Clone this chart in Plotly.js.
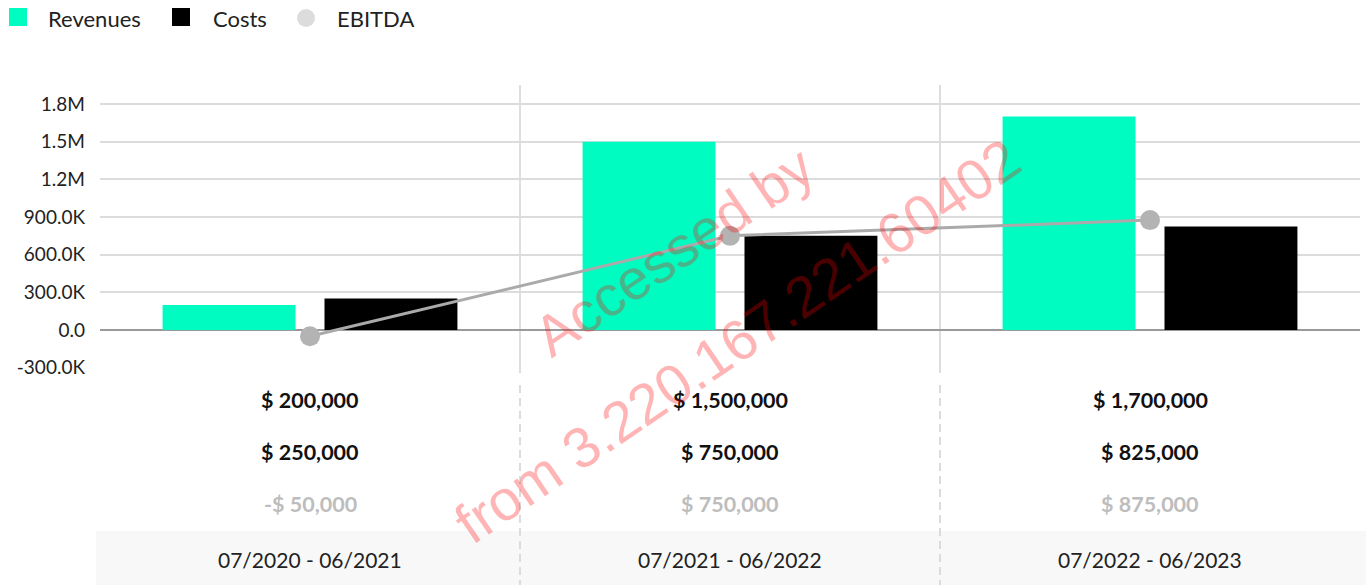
<!DOCTYPE html>
<html><head><meta charset="utf-8">
<script src="https://cdn.plot.ly/plotly-3.0.1.min.js"></script>
<style>html,body{margin:0;padding:0;background:#fff;}#chart{width:1366px;height:585px;}</style>
</head><body><div id="chart"></div>
<script>
const categories = ['07/2020 - 06/2021', '07/2021 - 06/2022', '07/2022 - 06/2023'];
const revenues = [200000, 1500000, 1700000];
const costs = [250000, 750000, 825000];
const ebitda = [-50000, 750000, 875000];
const yTickVals = [-300000, 0, 300000, 600000, 900000, 1200000, 1500000, 1800000];
const yTickText = ['-300.0K', '0.0', '300.0K', '600.0K', '900.0K', '1.2M', '1.5M', '1.8M'];
const seriesNames = ['Revenues', 'Costs', 'EBITDA'];
const watermarkLines = ['Accessed by', 'from 3.220.167.221.60402'];

const W = 1366, H = 585, ML = 100, MR = 6, MT = 85, MB = 217;
const PW = W - ML - MR, PH = H - MT - MB;
const px = v => (v - ML) / PW;
const py = v => (H - MB - v) / PH;

const COL_REV = '#00fcc1', COL_COST = '#000000', COL_EB = '#aaaaaa', COL_EB_LEG = '#dcdcdc';
const FONT = 'Lato, "Open Sans", sans-serif';

function money(v) {
  const s = Math.abs(v).toLocaleString('en-US');
  return (v < 0 ? '-' : '') + '$ ' + s;
}

const traces = [
  {type: 'bar', name: seriesNames[0], x: categories, y: revenues, marker: {color: COL_REV}, showlegend: false, hoverinfo: 'skip'},
  {type: 'bar', name: seriesNames[1], x: categories, y: costs, marker: {color: COL_COST}, showlegend: false, hoverinfo: 'skip'},
  {type: 'scatter', mode: 'lines+markers', name: seriesNames[2], x: categories, y: ebitda,
   line: {color: COL_EB, width: 3}, marker: {color: '#b3b3b3', size: 20}, showlegend: false, hoverinfo: 'skip', cliponaxis: false}
];

const annotations = [];
const shapes = [];

// bottom band
shapes.push({type: 'rect', xref: 'paper', yref: 'paper', x0: px(96), x1: px(1366), y0: py(531), y1: py(585),
  fillcolor: '#f8f8f8', line: {width: 0}, layer: 'below'});

// category dividers
[0.5, 1.5].forEach(xv => {
  shapes.push({type: 'line', xref: 'x', yref: 'paper', x0: xv, x1: xv, y0: py(373), y1: 1,
    line: {color: '#dedede', width: 2}, layer: 'below'});
  shapes.push({type: 'line', xref: 'x', yref: 'paper', x0: xv, x1: xv, y0: py(385), y1: py(585),
    line: {color: '#dcdcdc', width: 2, dash: '8px,5px'}, layer: 'below'});
});

// table rows
const rows = [
  {vals: revenues, y: 400, color: '#111111'},
  {vals: costs, y: 452, color: '#111111'},
  {vals: ebitda, y: 504, color: '#bdbdbd'}
];
rows.forEach(r => {
  r.vals.forEach((v, i) => {
    annotations.push({x: categories[i], xref: 'x', y: py(r.y), yref: 'paper', text: '<b>' + money(v) + '</b>',
      showarrow: false, xanchor: 'center', yanchor: 'middle', font: {family: FONT, size: 21.5, color: r.color}});
  });
});
categories.forEach(c => {
  annotations.push({x: c, xref: 'x', y: py(559), yref: 'paper', text: c,
    showarrow: false, xanchor: 'center', yanchor: 'middle', font: {family: FONT, size: 21, color: '#222222'}});
});

// custom legend
shapes.push({type: 'rect', xref: 'paper', yref: 'paper', x0: px(9), x1: px(27), y0: py(26), y1: py(8), fillcolor: COL_REV, line: {width: 0}});
shapes.push({type: 'rect', xref: 'paper', yref: 'paper', x0: px(172), x1: px(190), y0: py(26), y1: py(8), fillcolor: COL_COST, line: {width: 0}});
shapes.push({type: 'circle', xref: 'paper', yref: 'paper', x0: px(297), x1: px(315), y0: py(27), y1: py(9), fillcolor: COL_EB_LEG, line: {width: 0}});
[[46, seriesNames[0]], [211, seriesNames[1]], [335, seriesNames[2]]].forEach(([x, t]) => {
  annotations.push({x: px(x), xref: 'paper', y: py(19), yref: 'paper', text: t, showarrow: false,
    xanchor: 'left', yanchor: 'middle', font: {family: FONT, size: 22, color: '#222222'}});
});

// watermark
[[674, 251], [737, 341]].forEach(([x, y], i) => {
  annotations.push({x: px(x), xref: 'paper', y: py(y), yref: 'paper', text: watermarkLines[i], showarrow: false,
    xanchor: 'center', yanchor: 'middle', textangle: -34.3,
    font: {family: '"Liberation Sans", Arial, sans-serif', size: 57, color: 'rgba(255,0,0,0.29)'}});
});

const layout = {
  width: W, height: H,
  margin: {l: ML, r: MR, t: MT, b: MB, pad: 0},
  paper_bgcolor: '#ffffff', plot_bgcolor: '#ffffff',
  showlegend: false,
  barmode: 'group', bargap: 0.229, bargroupgap: 0.179,
  font: {family: FONT, color: '#222222'},
  xaxis: {type: 'category', showticklabels: false, showgrid: false, zeroline: false, showline: false, ticks: '', fixedrange: true},
  yaxis: {range: [-302600, 1951000], tickvals: yTickVals, ticktext: yTickText, showgrid: true, gridcolor: '#dcdcdc', gridwidth: 2,
    zeroline: true, zerolinecolor: '#9a9a9a', zerolinewidth: 2, showline: false, ticks: '', ticklabelstandoff: 14,
    tickfont: {family: FONT, size: 19, color: '#222222'}, fixedrange: true},
  shapes: shapes,
  annotations: annotations
};

Plotly.newPlot('chart', traces, layout, {staticPlot: true, displayModeBar: false});
</script>
</body></html>
